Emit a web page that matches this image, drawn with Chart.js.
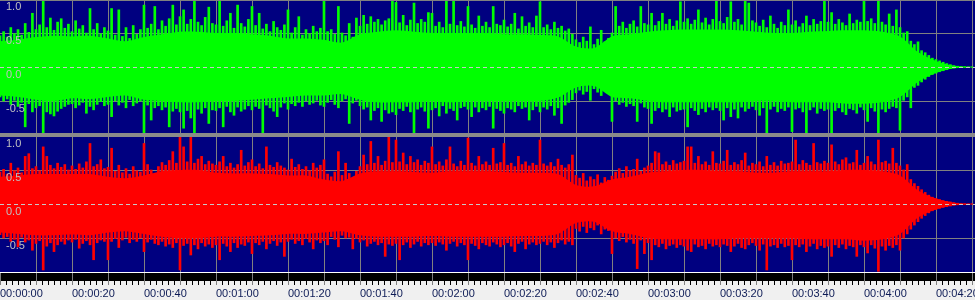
<!DOCTYPE html>
<html>
<head>
<meta charset="utf-8">
<script src="https://cdn.jsdelivr.net/npm/chart.js@4.4.1/dist/chart.umd.min.js"></script>
<style>
  body { margin: 0; }
  #wrap { position: relative; width: 975px; height: 300px; background: #f0f0f0; overflow: hidden; }
  .box { position: absolute; left: 0; width: 975px; }
  #black { top: 273px; height: 8px; background: #000000; }
  #boxL { top: -1px; height: 136px; }
  #boxR { top: 136px; height: 164px; }
  #white { top: 272px; height: 1px; background: #ffffff; z-index: 3; }
  #lineTop { top: 0; height: 1px; background: #808080; z-index: 3; }
  #sep { top: 133px; height: 4px; background: #8a8a8a; z-index: 3; }
</style>
</head>
<body>
<div id="wrap">
  <div class="box" id="black"></div>
  <div class="box" id="boxL"><canvas id="chartL"></canvas></div>
  <div class="box" id="boxR"><canvas id="chartR"></canvas></div>
  <div class="box" id="white"></div>
  <div class="box" id="lineTop"></div>
  <div class="box" id="sep"></div>
</div>
<script>
// peak per second (t = 0 .. 270 s)
const gMax = [
  0.46,0.52,0.44,0.58,0.49,0.55,0.47,0.64,0.51,0.79,
  0.55,0.62,0.99,0.58,0.72,0.54,0.66,0.71,0.57,0.63,
  0.52,0.68,0.56,0.61,0.50,0.86,0.55,0.64,0.49,0.58,
  0.53,0.86,0.47,0.84,0.45,0.58,0.42,0.61,0.48,0.55,
  0.91,0.57,0.63,0.89,0.55,0.68,0.60,0.71,0.91,0.62,
  0.74,0.84,0.63,0.70,0.99,0.66,0.61,0.73,0.88,0.64,
  0.62,0.99,0.60,0.68,0.79,0.57,0.91,0.64,0.59,0.70,
  0.89,0.61,0.79,0.56,0.63,0.52,0.67,0.58,0.54,0.62,
  0.84,0.50,0.58,0.74,0.47,0.55,0.49,0.60,0.52,0.57,
  0.99,0.52,0.55,0.48,0.89,0.50,0.46,0.64,0.44,0.72,
  0.60,0.76,0.63,0.74,0.66,0.70,0.62,0.68,0.71,0.99,
  0.95,0.65,0.76,0.61,0.69,0.94,0.64,0.70,0.66,0.80,
  0.79,0.60,0.66,0.58,0.99,0.63,0.99,0.61,0.67,0.59,
  0.89,0.62,0.57,0.75,0.60,0.66,0.58,0.89,0.63,0.61,
  0.69,0.59,0.63,0.79,0.56,0.74,0.60,0.65,0.58,0.75,
  0.96,0.58,0.62,0.55,0.66,0.57,0.60,0.53,0.56,0.48,
  0.40,0.36,0.44,0.38,0.59,0.33,0.41,0.54,0.37,0.42,
  0.50,0.89,0.60,0.66,0.57,0.63,0.68,0.59,0.89,0.64,
  0.62,0.79,0.61,0.67,0.79,0.63,0.70,0.60,0.68,0.96,
  0.66,0.71,0.63,0.69,0.84,0.65,0.72,0.62,0.70,0.99,
  0.67,0.64,0.73,0.96,0.66,0.70,0.62,0.99,0.94,0.68,
  0.65,0.60,0.69,0.58,0.75,0.63,0.57,0.66,0.61,0.84,
  0.62,0.68,0.59,0.64,0.75,0.61,0.70,0.63,0.67,0.99,
  0.66,0.80,0.63,0.70,0.65,0.61,0.78,0.64,0.69,0.66,
  0.99,0.67,0.71,0.64,0.99,0.66,0.62,0.78,0.60,0.84,
  0.58,0.50,0.52,0.38,0.33,0.37,0.24,0.21,0.17,0.13,
  0.11,0.09,0.07,0.05,0.035,0.02,0.012,0.006,0.004,0.003,
  0.003
];
const gMin = [
  -0.44,-0.50,-0.47,-0.55,-0.49,-0.58,-0.52,-0.88,-0.54,-0.66,
  -0.60,-0.57,-0.98,-0.66,-0.69,-0.72,-0.65,-0.61,-0.58,-0.55,
  -0.54,-0.60,-0.56,-0.52,-0.68,-0.58,-0.63,-0.55,-0.51,-0.57,
  -0.55,-0.73,-0.50,-0.56,-0.52,-0.60,-0.48,-0.57,-0.53,-0.50,
  -0.98,-0.56,-0.78,-0.60,-0.57,-0.63,-0.59,-0.88,-0.65,-0.61,
  -0.66,-0.90,-0.64,-0.75,-0.98,-0.62,-0.68,-0.60,-0.83,-0.63,
  -0.64,-0.60,-0.88,-0.58,-0.66,-0.71,-0.59,-0.65,-0.62,-0.57,
  -0.63,-0.58,-0.61,-0.98,-0.56,-0.60,-0.65,-0.73,-0.59,-0.53,
  -0.62,-0.54,-0.57,-0.52,-0.58,-0.50,-0.55,-0.53,-0.49,-0.56,
  -0.58,-0.52,-0.48,-0.55,-0.60,-0.50,-0.47,-0.83,-0.53,-0.49,
  -0.57,-0.62,-0.59,-0.78,-0.64,-0.60,-0.80,-0.63,-0.68,-0.66,
  -0.70,-0.61,-0.64,-0.58,-0.66,-0.98,-0.62,-0.59,-0.65,-0.90,
  -0.63,-0.60,-0.72,-0.57,-0.68,-0.61,-0.64,-0.78,-0.60,-0.58,
  -0.62,-0.73,-0.59,-0.66,-0.60,-0.63,-0.58,-0.90,-0.61,-0.64,
  -0.68,-0.60,-0.62,-0.66,-0.57,-0.61,-0.59,-0.78,-0.63,-0.58,
  -0.66,-0.59,-0.62,-0.57,-0.71,-0.60,-0.83,-0.56,-0.52,-0.48,
  -0.38,-0.34,-0.40,-0.36,-0.49,-0.32,-0.37,-0.42,-0.35,-0.39,
  -0.80,-0.50,-0.55,-0.52,-0.58,-0.54,-0.57,-0.80,-0.53,-0.59,
  -0.61,-0.83,-0.64,-0.60,-0.66,-0.62,-0.73,-0.59,-0.65,-0.63,
  -0.62,-0.88,-0.60,-0.64,-0.70,-0.61,-0.66,-0.59,-0.63,-0.60,
  -0.64,-0.78,-0.60,-0.73,-0.62,-0.75,-0.59,-0.65,-0.61,-0.58,
  -0.63,-0.71,-0.60,-0.98,-0.62,-0.58,-0.66,-0.61,-0.64,-0.59,
  -0.95,-0.62,-0.60,-0.66,-0.98,-0.63,-0.59,-0.68,-0.61,-0.64,
  -0.62,-0.98,-0.64,-0.60,-0.66,-0.70,-0.61,-0.63,-0.68,-0.59,
  -0.63,-0.80,-0.60,-0.65,-0.98,-0.62,-0.66,-0.61,-0.58,-0.60,
  -0.93,-0.49,-0.44,-0.60,-0.30,-0.27,-0.22,-0.18,-0.14,-0.11,
  -0.09,-0.07,-0.055,-0.04,-0.025,-0.015,-0.008,-0.005,-0.004,-0.003,
  -0.003
];
const rMax = [
  0.47,0.51,0.44,0.60,0.49,0.53,0.46,0.70,0.74,0.52,
  0.55,0.49,0.84,0.70,0.57,0.52,0.60,0.54,0.58,0.50,
  0.56,0.51,0.59,0.53,0.62,0.89,0.55,0.58,0.65,0.52,
  0.54,0.82,0.48,0.57,0.46,0.52,0.44,0.55,0.49,0.47,
  0.89,0.58,0.50,0.30,0.55,0.61,0.57,0.64,0.77,0.60,
  0.99,0.84,0.62,0.99,0.60,0.66,0.70,0.58,0.63,0.59,
  0.57,0.62,0.70,0.55,0.60,0.53,0.58,0.79,0.56,0.61,
  0.65,0.55,0.59,0.52,0.84,0.57,0.54,0.61,0.56,0.53,
  0.50,0.66,0.54,0.58,0.51,0.55,0.49,0.60,0.53,0.57,
  0.65,0.44,0.40,0.47,0.77,0.42,0.60,0.45,0.38,0.48,
  0.55,0.72,0.58,0.92,0.60,0.70,0.57,0.63,0.99,0.61,
  0.94,0.62,0.75,0.58,0.70,0.61,0.65,0.57,0.63,0.60,
  0.84,0.58,0.62,0.56,0.65,0.84,0.59,0.55,0.63,0.57,
  0.97,0.60,0.56,0.70,0.58,0.62,0.57,0.82,0.59,0.61,
  0.89,0.57,0.60,0.55,0.70,0.58,0.62,0.56,0.60,0.57,
  0.94,0.59,0.56,0.61,0.55,0.66,0.57,0.53,0.58,0.72,
  0.42,0.38,0.45,0.34,0.40,0.36,0.43,0.31,0.39,0.35,
  0.41,0.47,0.52,0.45,0.55,0.49,0.51,0.66,0.48,0.53,
  0.56,0.60,0.77,0.75,0.58,0.62,0.57,0.64,0.59,0.61,
  0.63,0.84,0.84,0.60,0.70,0.58,0.62,0.57,0.77,0.60,
  0.59,0.63,0.79,0.57,0.61,0.58,0.64,0.75,0.56,0.60,
  0.58,0.62,0.55,0.70,0.57,0.61,0.56,0.63,0.59,0.60,
  0.62,0.94,0.58,0.64,0.60,0.57,0.89,0.61,0.59,0.63,
  0.60,0.87,0.62,0.58,0.65,0.68,0.59,0.61,0.79,0.57,
  0.60,0.70,0.62,0.58,0.94,0.61,0.63,0.59,0.82,0.60,
  0.56,0.50,0.58,0.36,0.30,0.26,0.21,0.17,0.13,0.10,
  0.08,0.065,0.05,0.04,0.03,0.02,0.012,0.007,0.004,0.003,
  0.003
];
const rMin = [
  -0.45,-0.50,-0.48,-0.55,-0.52,-0.63,-0.49,-0.56,-0.53,-0.68,
  -0.58,-0.54,-0.97,-0.62,-0.57,-0.70,-0.60,-0.55,-0.59,-0.53,
  -0.56,-0.52,-0.65,-0.58,-0.54,-0.60,-0.82,-0.57,-0.53,-0.55,
  -0.82,-0.55,-0.51,-0.64,-0.53,-0.49,-0.57,-0.52,-0.55,-0.50,
  -0.70,-0.56,-0.52,-0.58,-0.60,-0.55,-0.62,-0.59,-0.64,-0.57,
  -0.97,-0.61,-0.58,-0.75,-0.60,-0.66,-0.57,-0.62,-0.59,-0.64,
  -0.60,-0.82,-0.58,-0.62,-0.70,-0.57,-0.64,-0.59,-0.61,-0.56,
  -0.73,-0.57,-0.60,-0.55,-0.66,-0.58,-0.54,-0.61,-0.56,-0.77,
  -0.55,-0.52,-0.58,-0.54,-0.60,-0.51,-0.56,-0.66,-0.53,-0.57,
  -0.54,-0.60,-0.48,-0.52,-0.63,-0.46,-0.50,-0.49,-0.66,-0.51,
  -0.56,-0.53,-0.62,-0.58,-0.55,-0.60,-0.57,-0.77,-0.59,-0.61,
  -0.58,-0.82,-0.60,-0.56,-0.64,-0.59,-0.55,-0.62,-0.57,-0.60,
  -0.57,-0.61,-0.56,-0.59,-0.68,-0.58,-0.55,-0.62,-0.57,-0.60,
  -0.82,-0.58,-0.61,-0.66,-0.57,-0.60,-0.62,-0.56,-0.59,-0.63,
  -0.60,-0.57,-0.62,-0.70,-0.58,-0.55,-0.66,-0.59,-0.56,-0.60,
  -0.58,-0.55,-0.60,-0.56,-0.64,-0.57,-0.53,-0.59,-0.55,-0.60,
  -0.36,-0.40,-0.33,-0.42,-0.35,-0.38,-0.31,-0.44,-0.37,-0.39,
  -0.73,-0.50,-0.54,-0.48,-0.56,-0.52,-0.58,-0.95,-0.53,-0.73,
  -0.57,-0.82,-0.60,-0.63,-0.58,-0.66,-0.61,-0.59,-0.64,-0.60,
  -0.62,-0.68,-0.70,-0.59,-0.63,-0.61,-0.66,-0.58,-0.62,-0.60,
  -0.63,-0.59,-0.61,-0.70,-0.62,-0.58,-0.64,-0.66,-0.60,-0.57,
  -0.61,-0.68,-0.59,-0.97,-0.62,-0.60,-0.64,-0.58,-0.63,-0.61,
  -0.82,-0.60,-0.63,-0.59,-0.70,-0.62,-0.58,-0.66,-0.61,-0.64,
  -0.62,-0.77,-0.60,-0.64,-0.59,-0.66,-0.61,-0.63,-0.77,-0.60,
  -0.63,-0.72,-0.60,-0.65,-0.99,-0.62,-0.68,-0.61,-0.64,-0.60,
  -0.68,-0.50,-0.44,-0.37,-0.31,-0.26,-0.21,-0.17,-0.13,-0.10,
  -0.08,-0.065,-0.05,-0.04,-0.03,-0.02,-0.012,-0.007,-0.004,-0.003,
  -0.003
];
// solid body of the wave, one value every 5 s (t = 0 .. 270 s)
const gCoreTop = [
  0.38,0.40,0.44,0.46,0.45,0.46,0.42,0.38,0.44,0.48,
  0.52,0.52,0.50,0.50,0.48,0.46,0.42,0.42,0.40,0.36,
  0.48,0.52,0.54,0.52,0.50,0.50,0.50,0.50,0.48,0.48,
  0.47,0.45,0.30,0.28,0.45,0.48,0.52,0.54,0.55,0.55,
  0.55,0.54,0.52,0.50,0.50,0.52,0.53,0.54,0.54,0.52,
  0.45,0.22,0.09,0.02,0.003
];
const gCoreBot = [
  -0.42,-0.44,-0.48,-0.50,-0.46,-0.47,-0.44,-0.42,-0.48,-0.50,
  -0.52,-0.52,-0.50,-0.50,-0.48,-0.46,-0.44,-0.42,-0.42,-0.40,
  -0.48,-0.52,-0.52,-0.52,-0.50,-0.52,-0.50,-0.50,-0.50,-0.50,
  -0.50,-0.45,-0.30,-0.28,-0.44,-0.46,-0.50,-0.52,-0.52,-0.52,
  -0.52,-0.52,-0.50,-0.50,-0.52,-0.52,-0.52,-0.54,-0.54,-0.52,
  -0.44,-0.22,-0.09,-0.02,-0.003
];
const rCoreTop = [
  0.40,0.42,0.44,0.44,0.44,0.44,0.40,0.38,0.42,0.48,
  0.50,0.50,0.46,0.45,0.45,0.44,0.42,0.42,0.36,0.34,
  0.45,0.48,0.48,0.47,0.46,0.48,0.48,0.48,0.47,0.46,
  0.46,0.44,0.28,0.26,0.36,0.40,0.46,0.48,0.50,0.50,
  0.48,0.48,0.46,0.46,0.48,0.48,0.48,0.50,0.50,0.48,
  0.42,0.20,0.08,0.02,0.003
];
const rCoreBot = [
  -0.42,-0.44,-0.46,-0.46,-0.45,-0.46,-0.42,-0.40,-0.44,-0.48,
  -0.50,-0.50,-0.48,-0.48,-0.47,-0.46,-0.44,-0.44,-0.42,-0.40,
  -0.46,-0.48,-0.48,-0.48,-0.47,-0.48,-0.48,-0.48,-0.48,-0.47,
  -0.47,-0.44,-0.28,-0.26,-0.40,-0.44,-0.50,-0.52,-0.52,-0.52,
  -0.52,-0.50,-0.50,-0.50,-0.50,-0.52,-0.52,-0.52,-0.54,-0.52,
  -0.44,-0.20,-0.08,-0.02,-0.003
];
const segundos = gMax.map((_, i) => i);
const cada5 = gCoreTop.map((_, i) => i * 5);
const X_MAX = 975 / 3.6; // visible span in seconds

const fondo = {
    id: 'fondo',
    beforeDraw(chart) {
        const a = chart.chartArea;
        const ctx = chart.ctx;
        ctx.save();
        ctx.fillStyle = '#000080';
        ctx.fillRect(a.left, a.top, a.right - a.left, a.bottom - a.top);
        ctx.restore();
    }
};

function esMultiplo(v, m) {
    return Math.abs(v / m - Math.round(v / m)) < 1e-6;
}

function formatoTiempo(s) {
    const t = Math.round(s);
    const dos = n => String(n).padStart(2, '0');
    return dos(Math.floor(t / 3600)) + ':' + dos(Math.floor(t / 60) % 60) + ':' + dos(t % 60);
}

function crearOnda(id, maximos, minimos, nucleoSup, nucleoInf, color, conEje) {
    const ejeX = conEje ? {
        type: 'linear', min: 0, max: X_MAX, offset: false,
        ticks: {
            stepSize: 10 / 6, autoSkip: false, maxRotation: 0, minRotation: 0,
            includeBounds: false, align: 'start', padding: 2,
            color: '#0c1a55', font: { family: 'Liberation Sans', size: 11 },
            callback: v => esMultiplo(v, 20) ? formatoTiempo(v) : ''
        },
        grid: {
            offset: false,
            tickLength: 13,
            color: c => (c.tick && c.tick.value > 0 && esMultiplo(c.tick.value, 10)) ? '#808080' : 'rgba(0,0,0,0)',
            tickColor: c => (c.tick && esMultiplo(c.tick.value, 10)) ? '#808080' : '#000000'
        },
        border: { display: false },
        afterFit: s => { s.height = 28; s.paddingLeft = 0; s.paddingRight = 0; }
    } : {
        type: 'linear', min: 0, max: X_MAX, offset: false,
        ticks: { display: false, stepSize: 10, includeBounds: false },
        grid: {
            offset: false,
            drawTicks: false,
            color: c => (c.tick && c.tick.value > 0) ? '#808080' : 'rgba(0,0,0,0)'
        },
        border: { display: false },
        afterFit: s => { s.height = 0; s.paddingLeft = 0; s.paddingRight = 0; }
    };

    new Chart(document.getElementById(id), {
        type: 'line',
        data: {
            datasets: [{
                // solid body
                data: nucleoSup.map((v, i) => ({ x: cada5[i], y: v })),
                backgroundColor: color,
                borderWidth: 0,
                pointRadius: 0,
                tension: 0.3,
                fill: '+1'
            }, {
                data: nucleoInf.map((v, i) => ({ x: cada5[i], y: v })),
                borderWidth: 0,
                pointRadius: 0,
                tension: 0.3,
                fill: false
            }, {
                // peak to peak per second
                type: 'bar',
                data: maximos.map((v, i) => ({ x: segundos[i], y: [minimos[i], v] })),
                backgroundColor: color,
                borderWidth: 0,
                barThickness: 2
            }]
        },
        options: {
            responsive: true,
            maintainAspectRatio: false,
            animation: false,
            events: [],
            layout: { padding: 0, autoPadding: false },
            plugins: { legend: { display: false }, tooltip: { enabled: false } },
            scales: {
                x: ejeX,
                y: {
                    min: -1, max: 1,
                    ticks: {
                        stepSize: 0.5, mirror: true, padding: 6, labelOffset: 8, z: 1,
                        color: '#c0c0c0', font: { family: 'Liberation Sans', size: 11 },
                        callback: v => v <= -1 ? '' : v.toFixed(1)
                    },
                    grid: {
                        drawTicks: false,
                        color: c => (c.tick && Math.abs(c.tick.value) === 0.5) ? '#808080' : 'rgba(0,0,0,0)'
                    },
                    border: { display: false },
                    afterFit: s => { s.width = 0; s.paddingTop = 0; s.paddingBottom = 0; }
                },
                cero: {
                    type: 'linear', position: 'right', min: -1, max: 1,
                    ticks: { display: false },
                    afterBuildTicks: s => { s.ticks = [{ value: 0 }]; },
                    grid: { drawTicks: false, color: '#c8c8c8', z: 1 },
                    border: { display: false, dash: [4, 3] },
                    afterFit: s => { s.width = 0; s.paddingTop = 0; s.paddingBottom = 0; }
                }
            }
        },
        plugins: [fondo]
    });
}

crearOnda('chartL', gMax, gMin, gCoreTop, gCoreBot, '#00ff00', false);
crearOnda('chartR', rMax, rMin, rCoreTop, rCoreBot, '#ff0000', true);
</script>
</body>
</html>
